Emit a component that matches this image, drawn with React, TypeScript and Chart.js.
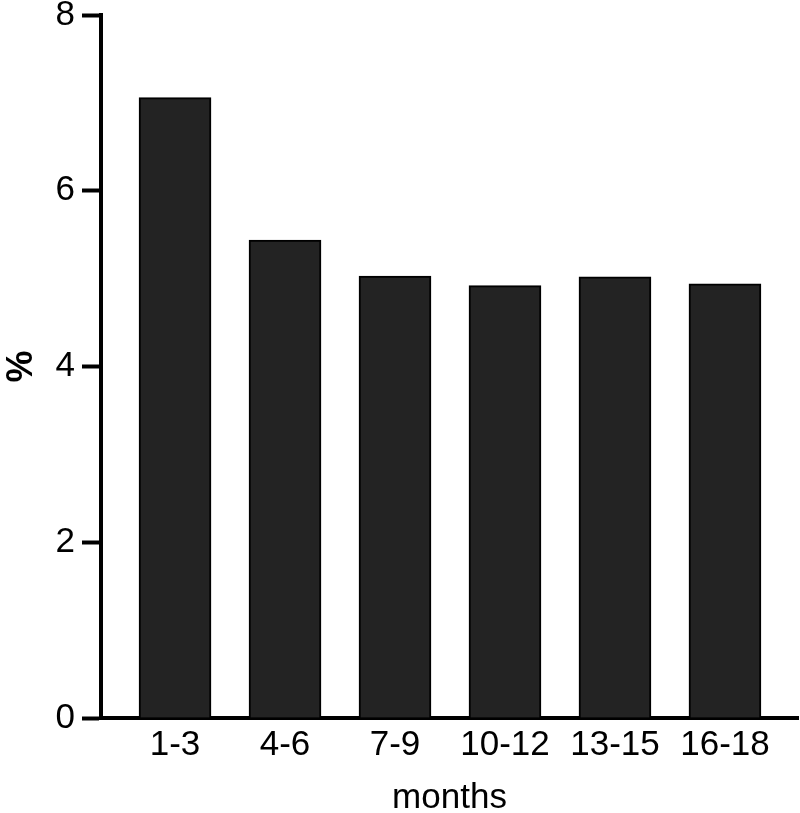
import React, { useEffect, useRef } from "react";
import { Chart, registerables } from "chart.js";

Chart.register(...registerables);

const months: string[] = ["1-3", "4-6", "7-9", "10-12", "13-15", "16-18"];
const percentValues: number[] = [7.06, 5.44, 5.03, 4.92, 5.02, 4.94];
const yTicks: number[] = [0, 2, 4, 6, 8];

const FONT = "'Liberation Sans', Arial, sans-serif";

export default function App() {
  const canvasRef = useRef<HTMLCanvasElement | null>(null);

  useEffect(() => {
    if (!canvasRef.current) return;
    const chart = new Chart(canvasRef.current, {
      type: "bar",
      data: {
        datasets: [
          {
            data: months.map((_, i) => ({ x: i, y: percentValues[i] })),
            backgroundColor: "#232323",
            borderColor: "#000000",
            borderWidth: 2,
            barThickness: 72,
          } as any,
        ],
      },
      options: {
        animation: false,
        responsive: true,
        maintainAspectRatio: false,
        layout: { padding: { top: 15, right: 2, left: 0, bottom: 0 } },
        plugins: {
          legend: { display: false },
          tooltip: { enabled: false },
        },
        scales: {
          x: {
            type: "linear",
            min: -0.673,
            max: 5.664,
            offset: false,
            grid: { display: false, drawTicks: false },
            border: { display: true, color: "#000000", width: 4 },
            ticks: {
              autoSkip: false,
              maxRotation: 0,
              padding: 6,
              color: "#000000",
              font: { family: FONT, size: 35 },
              callback: (v: any) => months[Number(v)] ?? "",
            },
            afterBuildTicks: (scale: any) => {
              scale.ticks = months.map((_, i) => ({ value: i }));
            },
            afterFit: (scale: any) => {
              scale.height = 95;
              scale.paddingLeft = 0;
              scale.paddingRight = 0;
            },
            title: {
              display: true,
              text: "months",
              color: "#000000",
              font: { family: FONT, size: 35 },
              padding: { top: 0, bottom: -6 },
            },
          },
          y: {
            type: "linear",
            min: 0,
            max: 8,
            grid: {
              display: true,
              drawOnChartArea: false,
              drawTicks: true,
              tickLength: 19,
              tickWidth: 4,
              tickColor: "#000000",
            },
            border: { display: true, color: "#000000", width: 4 },
            ticks: {
              stepSize: 2,
              padding: 7,
              color: "#000000",
              font: { family: FONT, size: 35 },
            },
            afterBuildTicks: (scale: any) => {
              scale.ticks = yTicks.map((v) => ({ value: v }));
            },
            afterFit: (scale: any) => {
              scale.width = 101;
              scale.paddingTop = 0;
              scale.paddingBottom = 0;
            },
            title: {
              display: true,
              text: "%",
              color: "#000000",
              font: { family: FONT, size: 36, weight: "bold" },
              padding: { top: 0, bottom: 0 },
            },
          },
        },
      },
    });
    return () => chart.destroy();
  }, []);

  return (
    <div style={{ position: "absolute", left: 0, top: 0, width: 800, height: 813 }}>
      <canvas ref={canvasRef} />
    </div>
  );
}
